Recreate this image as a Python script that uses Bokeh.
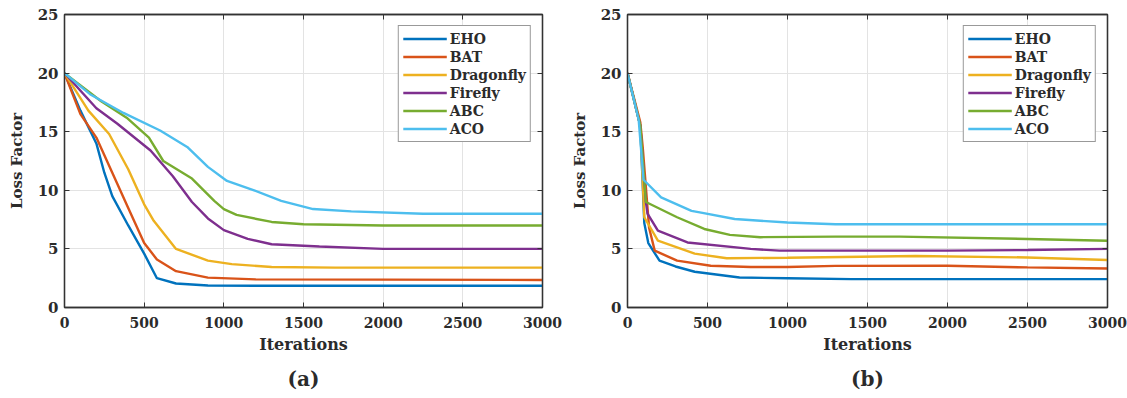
from bokeh.plotting import figure
from bokeh.layouts import row
from bokeh.models import LinearAxis, Title, FixedTicker, Range1d
from bokeh.embed import file_html
from bokeh.resources import INLINE

algorithms = ["EHO", "BAT", "Dragonfly", "Firefly", "ABC", "ACO"]
colors = ["#0072BD", "#D95319", "#EDB120", "#7E2F8E", "#77AC30", "#4DBEEE"]
x_ticks = [0, 500, 1000, 1500, 2000, 2500, 3000]
y_ticks = [0, 5, 10, 15, 20, 25]

# ---- panel (a) ----
a_eho_x = [0, 100, 200, 250, 300, 400, 500, 580, 700, 900, 1200, 3000]
a_eho_y = [20, 16.8, 14.0, 11.5, 9.5, 7.0, 4.6, 2.5, 2.05, 1.88, 1.85, 1.85]
a_bat_x = [0, 100, 200, 300, 400, 500, 580, 700, 900, 1200, 3000]
a_bat_y = [20, 16.5, 14.5, 11.5, 8.5, 5.5, 4.1, 3.1, 2.55, 2.4, 2.35]
a_dra_x = [0, 150, 280, 400, 500, 560, 700, 900, 1050, 1300, 1700, 3000]
a_dra_y = [20, 16.8, 14.8, 11.8, 8.8, 7.4, 5.0, 4.0, 3.7, 3.45, 3.4, 3.4]
a_fir_x = [0, 200, 330, 540, 680, 800, 900, 1000, 1150, 1300, 1600, 2000, 3000]
a_fir_y = [20, 17.0, 15.7, 13.4, 11.2, 9.0, 7.6, 6.6, 5.85, 5.4, 5.2, 5.0, 5.0]
a_abc_x = [0, 230, 390, 530, 620, 800, 940, 1000, 1080, 1300, 1500, 2000, 3000]
a_abc_y = [20, 17.6, 16.2, 14.5, 12.5, 11.0, 9.1, 8.4, 7.9, 7.3, 7.1, 7.0, 7.0]
a_aco_x = [0, 160, 370, 600, 770, 900, 1020, 1190, 1360, 1560, 1800, 2250, 3000]
a_aco_y = [20, 18.2, 16.6, 15.1, 13.7, 12.0, 10.8, 10.0, 9.1, 8.4, 8.2, 8.0, 8.0]

# ---- panel (b) ----
b_eho_x = [0, 80, 105, 130, 200, 300, 420, 700, 1000, 1400, 3000]
b_eho_y = [20, 15.5, 7.2, 5.5, 4.0, 3.5, 3.05, 2.56, 2.5, 2.42, 2.42]
b_bat_x = [0, 80, 95, 135, 170, 310, 520, 770, 1000, 1300, 2000, 2500, 3000]
b_bat_y = [20, 15.8, 13.7, 6.8, 4.85, 4.0, 3.56, 3.45, 3.45, 3.55, 3.56, 3.42, 3.33]
b_dra_x = [0, 80, 105, 190, 420, 620, 1000, 1800, 2500, 3000]
b_dra_y = [20, 15.5, 7.7, 5.7, 4.6, 4.2, 4.25, 4.4, 4.27, 4.05]
b_fir_x = [0, 80, 115, 125, 190, 375, 770, 950, 2000, 2500, 3000]
b_fir_y = [20, 15.5, 9.0, 8.0, 6.55, 5.55, 5.0, 4.85, 4.85, 4.9, 5.0]
b_abc_x = [0, 80, 115, 310, 480, 640, 830, 1300, 1700, 2500, 3000]
b_abc_y = [20, 15.5, 9.0, 7.7, 6.7, 6.2, 6.0, 6.05, 6.05, 5.85, 5.7]
b_aco_x = [0, 70, 100, 210, 400, 460, 670, 1000, 1300, 3000]
b_aco_y = [20, 16.0, 10.9, 9.4, 8.25, 8.1, 7.55, 7.25, 7.1, 7.1]

panel_a = [(a_eho_x, a_eho_y), (a_bat_x, a_bat_y), (a_dra_x, a_dra_y),
           (a_fir_x, a_fir_y), (a_abc_x, a_abc_y), (a_aco_x, a_aco_y)]
panel_b = [(b_eho_x, b_eho_y), (b_bat_x, b_bat_y), (b_dra_x, b_dra_y),
           (b_fir_x, b_fir_y), (b_abc_x, b_abc_y), (b_aco_x, b_aco_y)]

FONT = "DejaVu Serif"
TXT = "#2b2b2b"
EDGE = "#333333"


def style_axis(ax, ticks, show_labels=True, tick_size="14px"):
    ax.ticker = FixedTicker(ticks=ticks, minor_ticks=[])
    ax.axis_line_color = EDGE
    ax.axis_line_width = 1.3
    ax.major_tick_in = 5
    ax.major_tick_out = 0
    ax.minor_tick_in = 0
    ax.minor_tick_out = 0
    ax.major_tick_line_color = EDGE
    ax.major_label_text_font = FONT
    ax.major_label_text_font_style = "bold"
    ax.major_label_text_color = TXT
    ax.major_label_text_font_size = tick_size
    if not show_labels:
        ax.major_label_overrides = {t: "" for t in ticks}
        ax.major_label_standoff = 0


def make_panel(series, caption, width, border_left, border_right):
    p = figure(width=width, height=398, output_backend="svg", toolbar_location=None,
               x_range=Range1d(0, 3000), y_range=Range1d(0, 25),
               min_border_left=border_left, min_border_right=border_right,
               min_border_top=14, min_border_bottom=91)
    p.outline_line_color = EDGE
    p.outline_line_width = 1.3
    p.background_fill_color = "white"
    p.border_fill_color = "white"

    for name, color, (xs, ys) in zip(algorithms, colors, series):
        p.line(xs, ys, line_color=color, line_width=2.4, legend_label=name)

    xa = p.xaxis[0]
    ya = p.yaxis[0]
    style_axis(xa, x_ticks, True, "14px")
    style_axis(ya, y_ticks, True, "15px")
    xa.major_label_standoff = 9
    ya.major_label_standoff = 6
    xa.axis_label = "Iterations"
    ya.axis_label = "Loss Factor"
    for ax in (xa, ya):
        ax.axis_label_text_font = FONT
        ax.axis_label_text_font_style = "bold"
        ax.axis_label_text_color = TXT
    xa.axis_label_text_font_size = "16px"
    ya.axis_label_text_font_size = "15px"
    xa.axis_label_standoff = 4
    ya.axis_label_standoff = 9

    top = LinearAxis()
    style_axis(top, x_ticks, False)
    right = LinearAxis()
    style_axis(right, y_ticks, False)
    p.add_layout(top, "above")
    p.add_layout(right, "right")

    xg = p.xgrid[0]
    yg = p.ygrid[0]
    xg.ticker = FixedTicker(ticks=x_ticks, minor_ticks=[])
    yg.ticker = FixedTicker(ticks=y_ticks, minor_ticks=[])
    for g in (xg, yg):
        g.grid_line_color = "#e3e3e3"
        g.grid_line_width = 1

    cap = Title(text=caption, align="center", text_font=FONT, text_font_size="20px",
                text_font_style="bold", text_color=TXT, standoff=16,
                vertical_align="bottom")
    p.add_layout(cap, "below")

    lg = p.legend[0]
    lg.location = "top_right"
    lg.margin = 11
    lg.padding = 4
    lg.spacing = 1
    lg.label_height = 17
    lg.glyph_height = 17
    lg.glyph_width = 44
    lg.label_standoff = 3
    lg.label_text_font = FONT
    lg.label_text_font_style = "bold"
    lg.label_text_font_size = "14px"
    lg.label_text_color = TXT
    lg.border_line_color = EDGE
    lg.border_line_width = 1.2
    lg.background_fill_color = "white"
    lg.background_fill_alpha = 1.0
    return p


pa = make_panel(panel_a, "(a)", 563, 64, 21)
pb = make_panel(panel_b, "(b)", 564, 64, 20)

layout = row(pa, pb)
open("out.html", "w").write(file_html(layout, INLINE))
